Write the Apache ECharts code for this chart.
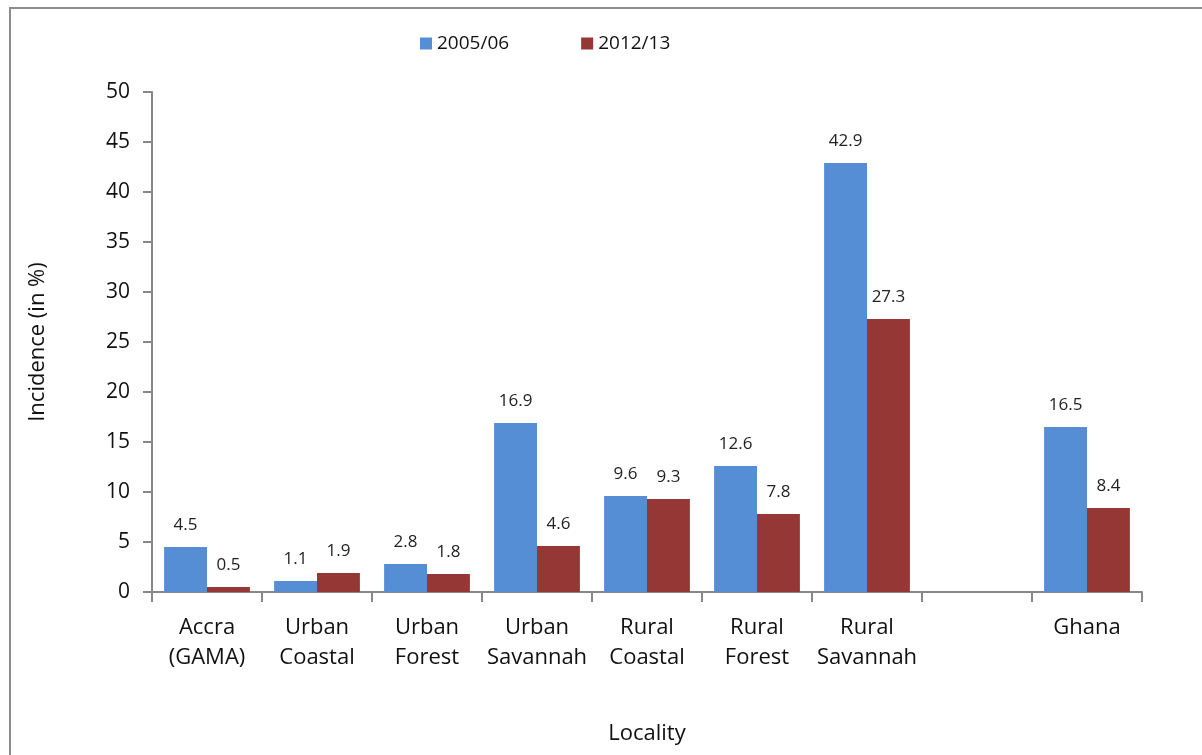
<!DOCTYPE html>
<html><head><meta charset="utf-8">
<script src="https://cdn.jsdelivr.net/npm/echarts@6/dist/echarts.min.js"></script>
<style>html,body{margin:0;padding:0;background:#fff}#c{width:1202px;height:755px}</style>
</head><body><div id="c"></div>
<script>
const categories = ['Accra\n(GAMA)', 'Urban\nCoastal', 'Urban\nForest', 'Urban\nSavannah', 'Rural\nCoastal', 'Rural\nForest', 'Rural\nSavannah', '', 'Ghana'];
const series2005 = [4.5, 1.1, 2.8, 16.9, 9.6, 12.6, 42.9, '-', 16.5];
const series2012 = [0.5, 1.9, 1.8, 4.6, 9.3, 7.8, 27.3, '-', 8.4];
const yTicks = [0, 5, 10, 15, 20, 25, 30, 35, 40, 45, 50];

const FONT = 'Open Sans';
const chart = echarts.init(document.getElementById('c'));
const lbl = {show: true, position: 'top', distance: 13, fontFamily: FONT, fontSize: 17, color: '#222'};
chart.setOption({
  animation: false,
  textStyle: {fontFamily: FONT},
  graphic: [{type: 'rect', shape: {x: 10, y: 8, width: 1240, height: 800}, style: {fill: 'none', stroke: '#8c8c8c', lineWidth: 2}}],
  legend: {top: 29, left: 415, itemWidth: 12, itemHeight: 12, itemGap: 72,
    textStyle: {fontFamily: FONT, fontSize: 19, color: '#111'},
    data: [{name: '2005/06', icon: 'rect'}, {name: '2012/13', icon: 'rect'}]},
  grid: {left: 152, right: 60, top: 92, bottom: 163, containLabel: false},
  xAxis: {type: 'category', data: categories,
    name: 'Locality', nameLocation: 'middle', nameGap: 131,
    nameTextStyle: {fontFamily: FONT, fontSize: 22, color: '#111'},
    axisLine: {lineStyle: {color: '#888', width: 2}},
    axisTick: {show: true, alignWithLabel: false, length: 10, lineStyle: {color: '#888', width: 2}},
    axisLabel: {interval: 0, margin: 21, fontFamily: FONT, fontSize: 22, color: '#111', lineHeight: 30}},
  yAxis: {type: 'value', min: yTicks[0], max: yTicks[yTicks.length - 1], interval: 5,
    name: 'Incidence (in %)', nameLocation: 'middle', nameGap: 103, nameRotate: 90,
    nameTextStyle: {fontFamily: FONT, fontSize: 22, color: '#111'},
    axisLine: {show: true, lineStyle: {color: '#888', width: 2}},
    axisTick: {show: true, length: 9, lineStyle: {color: '#888', width: 2}},
    splitLine: {show: false},
    axisLabel: {margin: 22, fontFamily: FONT, fontSize: 21, color: '#111'}},
  series: [
    {name: '2005/06', type: 'bar', data: series2005, barGap: '0%', barCategoryGap: '22%',
     itemStyle: {color: '#558ed5'}, label: lbl},
    {name: '2012/13', type: 'bar', data: series2012,
     itemStyle: {color: '#953735'}, label: lbl}
  ]
});
</script></body></html>
